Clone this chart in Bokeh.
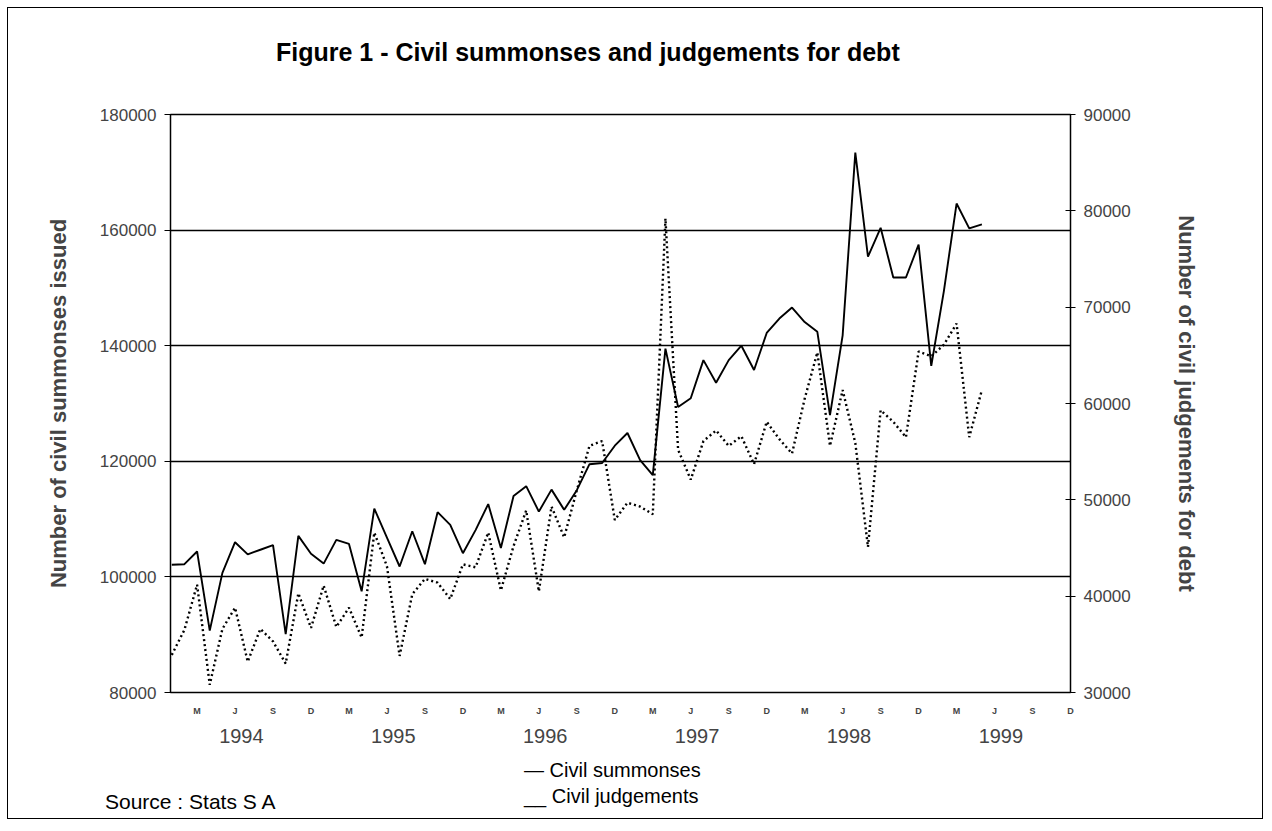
from bokeh.plotting import figure
from bokeh.layouts import column
from bokeh.models import (LinearAxis, Range1d, FixedTicker, Div,
                          BasicTickFormatter)
from bokeh.embed import file_html
from bokeh.resources import INLINE

# ---- data (monthly, Jan 1994 .. May 1999) ----
summonses = [102100, 102200, 104400, 90700, 100700, 106000, 103900, 104700, 105500, 90100, 107100, 104000,
             102300, 106400, 105700, 97500, 111800, 106800, 101800, 107900, 102200, 111200, 109000, 104100,
             108100, 112600, 105000, 114000, 115700, 111300, 115100, 111600, 115000, 119500, 119700, 122700,
             124900, 120200, 117600, 139500, 129400, 130900, 137500, 133600, 137500, 140000, 135800, 142200,
             144700, 146600, 144100, 142400, 128000, 141800, 173400, 155400, 160400, 151800, 151800, 157500,
             136500, 149500, 164600, 160300, 161000]
judgements = [33900, 36500, 41200, 30800, 36600, 38800, 33200, 36600, 35300, 33000, 40300, 36700,
              41100, 36800, 38800, 35700, 46600, 43100, 33800, 40200, 41800, 41400, 39700, 43300,
              43000, 46600, 40600, 45200, 48900, 40500, 49300, 46100, 51000, 55600, 56100, 47900,
              49700, 49300, 48500, 79200, 55200, 52100, 56100, 57200, 55600, 56600, 53700, 58100,
              56300, 54800, 60500, 65300, 55600, 61400, 55900, 45100, 59300, 58100, 56500, 65400,
              64900, 66100, 68300, 56500, 61400]
month_index = list(range(len(summonses)))

quarter_ticks = [2, 5, 8, 11, 14, 17, 20, 23, 26, 29, 32, 35, 38, 41, 44, 47, 50, 53, 56, 59, 62, 65, 68, 71]
quarter_labels = ["M", "J", "S", "D"] * 6
year_ticks = [5.5, 17.5, 29.5, 41.5, 53.5, 65.5]
year_labels = ["1994", "1995", "1996", "1997", "1998", "1999"]
left_ticks = [80000, 100000, 120000, 140000, 160000, 180000]
right_ticks = [30000, 40000, 50000, 60000, 70000, 80000, 90000]
legend_labels = ["Civil summonses", "Civil judgements"]
title_text = "Figure 1 - Civil summonses and judgements for debt"
source_text = "Source : Stats S A"

FONT = "Liberation Sans"

p = figure(frame_width=900, frame_height=578,
           x_range=Range1d(-0.1, 71.0), y_range=Range1d(80000, 180000),
           output_backend="svg", toolbar_location=None,
           min_border_left=162, min_border_right=192,
           min_border_top=46, min_border_bottom=62)
p.extra_y_ranges = {"right": Range1d(30000, 90000)}

p.outline_line_color = "black"
p.outline_line_width = 1.5
p.outline_line_alpha = 1

p.xgrid.grid_line_color = None
p.ygrid.ticker = FixedTicker(ticks=left_ticks)
p.ygrid.grid_line_color = "black"
p.ygrid.grid_line_width = 1.5
p.ygrid.grid_line_alpha = 1

p.line(month_index, summonses, color="black", line_width=1.9)
p.line(month_index, judgements, color="black", line_width=2.4,
       line_dash="2 3", y_range_name="right")

# month (quarter) axis
xa = p.xaxis[0]
xa.ticker = FixedTicker(ticks=quarter_ticks)
xa.major_label_overrides = {t: l for t, l in zip(quarter_ticks, quarter_labels)}
xa.major_tick_line_color = None
xa.minor_tick_line_color = None
xa.axis_line_color = "black"
xa.major_label_text_font = FONT
xa.major_label_text_font_size = "9px"
xa.major_label_text_font_style = "bold"
xa.major_label_standoff = 7

year_axis = LinearAxis(ticker=FixedTicker(ticks=year_ticks),
                       major_label_overrides={t: l for t, l in zip(year_ticks, year_labels)},
                       axis_line_color=None, major_tick_line_color=None,
                       minor_tick_line_color=None,
                       major_label_text_font=FONT, major_label_text_font_size="20px",
                       major_label_standoff=4)
p.add_layout(year_axis, "below")

ya = p.yaxis[0]
ya.ticker = FixedTicker(ticks=left_ticks)
ya.formatter = BasicTickFormatter(use_scientific=False)
ya.minor_tick_line_color = None
ya.major_tick_in = 0
ya.major_tick_out = 6
ya.major_label_standoff = 8
ya.major_label_text_font = FONT
ya.major_label_text_font_size = "17px"
ya.axis_label = "Number of civil summonses issued"
ya.axis_label_text_font = FONT
ya.axis_label_text_font_size = "22px"
ya.axis_label_text_font_style = "bold"
ya.axis_label_standoff = 26

ra = LinearAxis(y_range_name="right", ticker=FixedTicker(ticks=right_ticks),
                formatter=BasicTickFormatter(use_scientific=False),
                minor_tick_line_color=None, major_tick_in=5, major_tick_out=5,
                major_label_standoff=8,
                major_label_text_font=FONT, major_label_text_font_size="17px",
                axis_label="Number of civil judgements for debt",
                axis_label_text_font=FONT, axis_label_text_font_size="22px",
                axis_label_text_font_style="bold", axis_label_standoff=40)
p.add_layout(ra, "right")

# title above the chart
title_div = Div(text=('<div style="position:relative;width:1254px;height:60px;">'
                      '<span style="position:absolute;left:268px;top:31px;white-space:nowrap;'
                      'font-family:\'Liberation Sans\';font-size:25px;font-weight:bold;'
                      'line-height:26px;color:black;">' + title_text + '</span></div>'),
                width=1254, height=60, margin=0)

# legend and source note, below the chart
span = ('<span style="position:absolute;left:{l}px;top:{t}px;white-space:nowrap;'
        'font-family:\'Liberation Sans\';font-size:{fs}px;line-height:22px;color:black;">{txt}</span>')
html = ('<div style="position:relative;width:1254px;height:64px;">'
        + span.format(l=516, t=5, fs=20, txt="\u2014 " + legend_labels[0])
        + span.format(l=516, t=31, fs=20, txt="__ " + legend_labels[1])
        + span.format(l=97, t=37, fs=21, txt=source_text)
        + '</div>')
notes = Div(text=html, width=1254, height=64, margin=0)

root = column(title_div, p, notes, spacing=0,
              styles={"border": "1px solid black", "margin-left": "7px", "margin-top": "7px"})
open("out.html", "w").write(file_html(root, INLINE))
